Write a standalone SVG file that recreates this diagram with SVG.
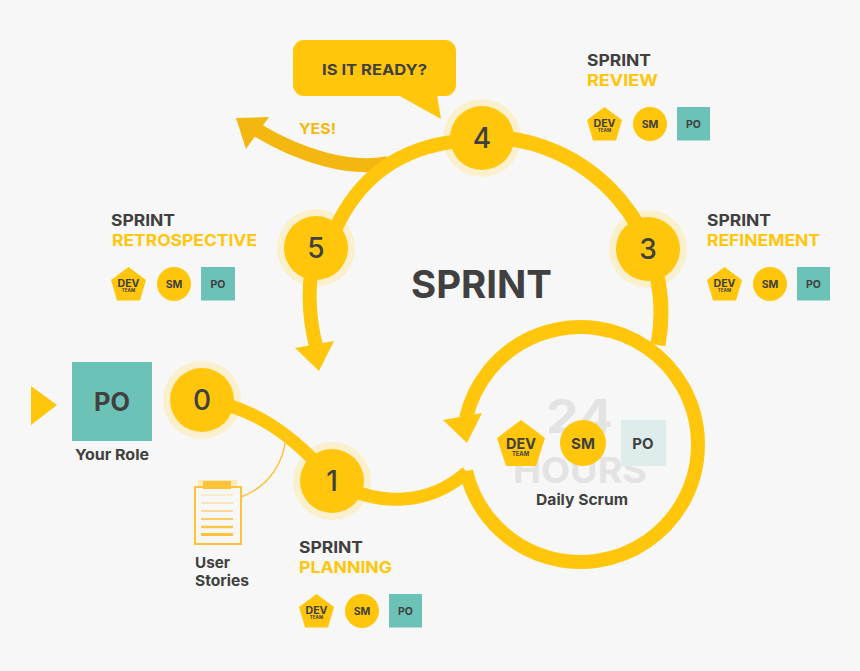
<svg xmlns="http://www.w3.org/2000/svg" width="860" height="671" viewBox="0 0 860 671">
<defs><style>
text{font-family:"Inter","Liberation Sans",sans-serif;font-weight:700;fill:#404040}
.line{fill:none;stroke:#FFC60B;stroke-width:14}
.y{fill:#FFC60B}
.halo{fill:#FBF0CE}
.teal{fill:#6DC2B8}
.num{font-size:28px;font-weight:500;text-anchor:middle}
.h{font-size:16px}
.hy{font-size:16px;fill:#FFC60B}
.m{text-anchor:middle}
.dev{font-size:10px;text-anchor:middle}
.team{font-size:4.500px;text-anchor:middle}
.sm{font-size:10.500px;text-anchor:middle}
.lab{font-size:15px}
.clip{stroke:#FFC33A;fill:none;stroke-width:2}
</style></defs>
<rect width="860" height="671" fill="#F7F7F7"/>
<g id="halos">
<circle class="halo" cx="202" cy="400" r="39"/>
<circle class="halo" cx="332" cy="481" r="39"/>
<circle class="halo" cx="648" cy="249" r="39"/>
<circle class="halo" cx="482" cy="138" r="39"/>
<circle class="halo" cx="316" cy="248" r="39"/>
</g>
<g id="connectors">
<path d="M388,163C350,171 300,156 257,130" fill="none" stroke="#F4B70F" stroke-width="14"/>
<polygon points="236,118 269,117 246,149" fill="#F4B70F"/>
<path class="line" d="M334,232Q370,150 460,141" style="stroke-width:14"/>
<path class="line" d="M482,137A176,176 0 0 1 658,345" style="stroke-width:15"/>
<path class="line" d="M466,471A117.500,117.500 0 1 0 466,418"/>
<polygon class="y" points="443,420 482,413 467,443"/>
<path class="line" d="M316,250C307,280 308,315 316,346"/>
<polygon class="y" points="295,348 334,341 319,371"/>
<path class="line" d="M202,400C250,405 295,435 332,481" style="stroke-width:13"/>
<path class="line" d="M332,481C380,508 430,505 467,472" style="stroke-width:13"/>
<path d="M241,497C268,487 286,462 286,432" fill="none" stroke="#FFC23F" stroke-width="1.500"/>
</g>
<g id="start-marker"><polygon class="y" points="31,386 31,425 57,405"/></g>
<g id="question">
<rect class="y" x="293" y="40" width="163" height="56" rx="11"/>
<polygon class="y" points="398,95 437,95 441,119"/>
<text x="322" y="74.500" font-size="15" textLength="105" lengthAdjust="spacingAndGlyphs">IS IT READY?</text>
</g>
<g id="yes"><text x="299" y="134" font-size="15" textLength="37" lengthAdjust="spacingAndGlyphs" style="fill:#F4B70F">YES!</text></g>
<g id="title"><text x="411" y="298" font-size="38" textLength="141" lengthAdjust="spacingAndGlyphs">SPRINT</text></g>
<g id="node-0"><circle class="y" cx="202" cy="400" r="32"/><text class="num" x="202" y="410">0</text></g>
<g id="node-1"><circle class="y" cx="332" cy="481" r="32"/><text class="num" x="332" y="491">1</text></g>
<g id="node-3"><circle class="y" cx="648" cy="249" r="32"/><text class="num" x="648" y="259">3</text></g>
<g id="node-4"><circle class="y" cx="482" cy="138" r="32"/><text class="num" x="482" y="148">4</text></g>
<g id="node-5"><circle class="y" cx="316" cy="248" r="32"/><text class="num" x="316" y="258">5</text></g>
<g id="your-role">
<rect class="teal" x="72" y="362" width="80" height="79"/>
<text x="94" y="411" font-size="25" textLength="36" lengthAdjust="spacingAndGlyphs">PO</text>
<text x="75" y="460" class="lab" textLength="74" lengthAdjust="spacingAndGlyphs">Your Role</text>
</g>
<g id="user-stories">
<rect x="198" y="480" width="39" height="7" fill="#FFE9B5"/>
<rect x="203" y="481" width="28" height="8" fill="#FFC33A"/>
<rect class="clip" x="195" y="487" width="46" height="57"/>
<g stroke="#FFC33A">
<path d="M201,495H233" opacity=".3" stroke-width="1.500"/>
<path d="M201,503H233" opacity=".45" stroke-width="1.500"/>
<path d="M201,511H233" opacity=".7" stroke-width="1.500"/>
<path d="M201,519H233" opacity=".8" stroke-width="2"/>
<path d="M201,527H233" opacity=".9" stroke-width="2.500"/>
<path d="M201,534.500H233" stroke-width="3"/>
</g>
<text x="195" y="568" class="lab" textLength="35" lengthAdjust="spacingAndGlyphs">User</text>
<text x="195" y="586" class="lab" textLength="54" lengthAdjust="spacingAndGlyphs">Stories</text>
</g>
<g id="retrospective" transform="translate(111 267)">
<text class="h" x="0" y="-41" textLength="64" lengthAdjust="spacingAndGlyphs">SPRINT</text><text class="hy" x="1" y="-21" textLength="145" lengthAdjust="spacingAndGlyphs">RETROSPECTIVE</text>
<polygon class="y" points="17.500,0 35,13 29,33.500 6,33.500 0,13"/><text class="dev" x="17.500" y="19.500" textLength="22" lengthAdjust="spacingAndGlyphs">DEV</text><text class="team" x="17.500" y="25">TEAM</text>
<circle class="y" cx="63" cy="17" r="17"/><text class="sm" x="63" y="21">SM</text>
<rect class="teal" x="90" y="0" width="34" height="33.500"/><text class="sm" x="107" y="21">PO</text>
</g>
<g id="planning" transform="translate(299 594)">
<text class="h" x="0" y="-41" textLength="64" lengthAdjust="spacingAndGlyphs">SPRINT</text><text class="hy" x="0" y="-21" textLength="93" lengthAdjust="spacingAndGlyphs">PLANNING</text>
<polygon class="y" points="17.500,0 35,13 29,33.500 6,33.500 0,13"/><text class="dev" x="17.500" y="19.500" textLength="22" lengthAdjust="spacingAndGlyphs">DEV</text><text class="team" x="17.500" y="25">TEAM</text>
<circle class="y" cx="63" cy="17" r="17"/><text class="sm" x="63" y="21">SM</text>
<rect class="teal" x="90" y="0" width="33" height="33.500"/><text class="sm" x="106.500" y="21">PO</text>
</g>
<g id="review" transform="translate(587 107)">
<text class="h" x="0" y="-41" textLength="64" lengthAdjust="spacingAndGlyphs">SPRINT</text><text class="hy" x="0" y="-21" textLength="71" lengthAdjust="spacingAndGlyphs">REVIEW</text>
<polygon class="y" points="17.500,0 35,13 29,33.500 6,33.500 0,13"/><text class="dev" x="17.500" y="19.500" textLength="22" lengthAdjust="spacingAndGlyphs">DEV</text><text class="team" x="17.500" y="25">TEAM</text>
<circle class="y" cx="63" cy="17" r="17"/><text class="sm" x="63" y="21">SM</text>
<rect class="teal" x="90" y="0" width="33" height="33.500"/><text class="sm" x="106.500" y="21">PO</text>
</g>
<g id="refinement" transform="translate(707 267)">
<text class="h" x="0" y="-41" textLength="64" lengthAdjust="spacingAndGlyphs">SPRINT</text><text class="hy" x="0" y="-21" textLength="113" lengthAdjust="spacingAndGlyphs">REFINEMENT</text>
<polygon class="y" points="17.500,0 35,13 29,33.500 6,33.500 0,13"/><text class="dev" x="17.500" y="19.500" textLength="22" lengthAdjust="spacingAndGlyphs">DEV</text><text class="team" x="17.500" y="25">TEAM</text>
<circle class="y" cx="63" cy="17" r="17"/><text class="sm" x="63" y="21">SM</text>
<rect class="teal" x="90" y="0" width="33" height="33.500"/><text class="sm" x="106.500" y="21">PO</text>
</g>
<g id="daily-scrum">
<text x="546" y="433" font-size="46" textLength="67" lengthAdjust="spacingAndGlyphs" style="fill:#E3E3E3">24</text>
<text x="513" y="483" font-size="35" textLength="134" lengthAdjust="spacingAndGlyphs" style="fill:#E3E3E3">HOURS</text>
<polygon class="y" points="521,420 545,438 536,466 506,466 497,438"/>
<text x="506" y="449" font-size="15" textLength="30" lengthAdjust="spacingAndGlyphs">DEV</text>
<text x="512" y="456" font-size="6" textLength="17" lengthAdjust="spacingAndGlyphs">TEAM</text>
<circle class="y" cx="583" cy="443" r="23"/>
<text class="m" x="583" y="449" font-size="15">SM</text>
<rect x="621" y="420" width="45" height="46" fill="#DEEDEB"/>
<text class="m" x="643" y="449" font-size="15">PO</text>
<text x="536" y="505" class="lab" textLength="92" lengthAdjust="spacingAndGlyphs">Daily Scrum</text>
</g>
</svg>
